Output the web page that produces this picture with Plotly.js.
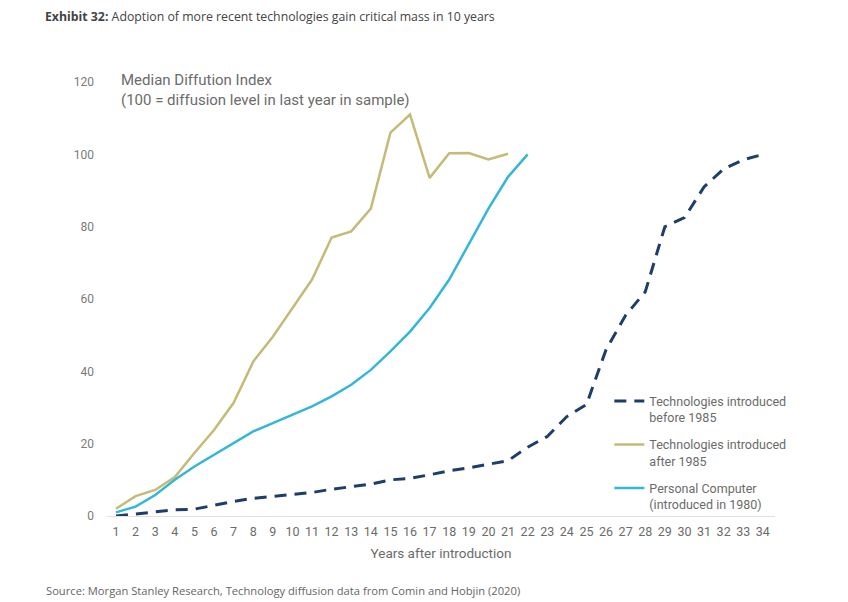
<!DOCTYPE html>
<html>
<head>
<meta charset="utf-8">
<script src="https://cdn.plot.ly/plotly-3.0.1.min.js"></script>
<style>html,body{margin:0;padding:0;background:#fff;}#chart{width:848px;height:602px;}</style>
</head>
<body>
<div id="chart"></div>
<script>
// ---- data ----
const yearsBefore = [1,2,3,4,5,6,7,8,9,10,11,12,13,14,15,16,17,18,19,20,21,22,23,24,25,26,27,28,29,30,31,32,33,34];
const before1985 = [0,0.5,1.2,1.7,1.9,3,4,4.9,5.4,5.8,6.5,7.4,8.1,8.8,10,10.4,11.4,12.5,13.3,14.2,15.3,19,22,27.5,30.8,46,55.5,62,80,82.5,91,96,98.5,100];
const yearsAfter = [1,2,3,4,5,6,7,8,9,10,11,12,13,14,15,16,17,18,19,20,21];
const after1985 = [2,5.5,7.2,10.8,17.4,23.8,31.3,42.7,49.6,57.6,65.4,77,78.7,85,106,111,93.5,100.3,100.4,98.6,100.2];
const yearsPC = [1,2,3,4,5,6,7,8,9,10,11,12,13,14,15,16,17,18,19,20,21,22];
const personalComputer = [1,2.6,5.8,10,13.7,16.9,20.1,23.4,25.7,28,30.3,33.1,36.3,40.4,45.5,51,57.5,65.4,75.2,85,93.8,100];
const xTicks = yearsBefore;
const yTicks = [0,20,40,60,80,100,120];
const seriesNames = ["Technologies introduced<br>before 1985","Technologies introduced<br>after 1985","Personal Computer<br>(introduced in 1980)"];

const FONT = "Roboto, 'Liberation Sans', sans-serif";
const traces = [
  {x: yearsBefore, y: before1985, name: seriesNames[0], mode: "lines", legendgroup: "a",
   line: {color: "#1d3d6b", width: 3, dash: "12px,8px"}},
  {x: yearsAfter, y: after1985, name: seriesNames[1], mode: "lines", legendgroup: "b",
   line: {color: "#c6ba78", width: 2.5}},
  {x: yearsPC, y: personalComputer, name: seriesNames[2], mode: "lines", legendgroup: "c",
   line: {color: "#36b6d6", width: 2.5}}
];

const layout = {
  width: 848, height: 602,
  paper_bgcolor: "#fff", plot_bgcolor: "#fff",
  margin: {l: 107, r: 73, t: 64, b: 86},
  font: {family: FONT, color: "#6b6b6b", size: 12},
  title: {text: "<b>Exhibit 32:</b> Adoption of more recent technologies gain critical mass in 10 years",
          font: {family: "'Open Sans', 'Noto Sans', sans-serif", size: 12.3, color: "#444"},
          xref: "container", yref: "container", x: 0.053, xanchor: "left", y: 0.972, yanchor: "middle"},
  xaxis: {range: [0.54, 34.62], tickvals: xTicks, ticktext: xTicks.map(String),
          showgrid: false, zeroline: false, showline: true, linecolor: "#e0e0e0", linewidth: 1,
          ticks: "", tickfont: {size: 12.5, color: "#6b6b6b"}, ticklabelstandoff: 4,
          title: {text: "Years after introduction", font: {size: 13.5, color: "#6b6b6b"}, standoff: 10},
          fixedrange: true},
  yaxis: {range: [0, 125], tickvals: yTicks, showgrid: false, zeroline: false, showline: false,
          ticks: "", tickfont: {size: 12, color: "#7a7a7a"}, ticklabelstandoff: 12, fixedrange: true},
  showlegend: true,
  legend: {x: 0.752, xanchor: "left", y: 0.287, yanchor: "top", valign: "top",
           traceorder: "grouped", tracegroupgap: 8,
           font: {size: 12.5, color: "#6b6b6b"}, bgcolor: "rgba(0,0,0,0)"},
  annotations: [
    {text: "Median Diffution Index<br>(100 = diffusion level in last year in sample)",
     xref: "paper", yref: "paper", x: 0.018, y: 0.99, xanchor: "left", yanchor: "top", align: "left",
     showarrow: false, font: {size: 15, color: "#6b6b6b"}},
    {text: "Source: Morgan Stanley Research, Technology diffusion data from Comin and Hobjin (2020)",
     xref: "paper", yref: "paper", x: -0.094, y: -0.164, xanchor: "left", yanchor: "middle", align: "left",
     showarrow: false, font: {family: "'Open Sans', 'Noto Sans', sans-serif", size: 11.2, color: "#666"}}
  ]
};

Plotly.newPlot("chart", traces, layout, {staticPlot: true, displayModeBar: false});
</script>
</body>
</html>
